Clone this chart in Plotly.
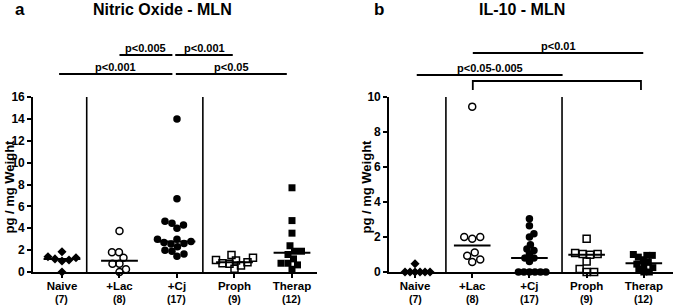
import numpy as np
import plotly.graph_objects as go

# ---------------- data ----------------
categories = ["Naive", "+Lac", "+Cj", "Proph", "Therap"]
counts = [7, 8, 17, 9, 12]

# Panel a: Nitric Oxide - MLN (pg / mg weight)
no_naive = [0.0, 1.0, 1.1, 1.2, 1.3, 1.4, 1.85]
no_lac = [0.0, 0.25, 0.75, 0.75, 1.3, 1.8, 1.8, 3.75]
no_cj = [1.45, 1.65, 1.9, 2.0, 2.3, 2.55, 2.6, 2.7, 2.8, 3.0, 3.0, 4.0, 4.3, 4.45, 4.65, 6.7, 14.0]
no_proph = [0.3, 0.6, 0.75, 0.8, 0.9, 1.05, 1.1, 1.3, 1.55]
no_therap = [0.25, 0.65, 0.8, 0.8, 1.2, 1.6, 1.9, 1.9, 2.4, 3.55, 4.7, 7.7]

# Panel b: IL-10 - MLN (pg / mg weight)
il_naive = [0.0, 0.0, 0.0, 0.0, 0.0, 0.0, 0.47]
il_lac = [0.57, 0.72, 0.93, 1.12, 1.9, 2.0, 2.0, 9.45]
il_cj = [0.0, 0.0, 0.0, 0.0, 0.0, 0.0, 0.6, 0.8, 0.8, 1.03, 1.23, 1.31, 1.56, 2.0, 2.19, 2.65, 3.05]
il_proph = [0.0, 0.0, 0.17, 0.6, 0.98, 1.03, 1.03, 1.08, 1.9]
il_therap = [0.0, 0.0, 0.15, 0.25, 0.35, 0.45, 0.55, 0.7, 0.85, 0.95, 0.95, 1.0]

no_ticks = [0, 2, 4, 6, 8, 10, 12, 14, 16]
il_ticks = [0, 2, 4, 6, 8, 10]

no_brackets = [(1.0, 1.92, 55, "p<0.005"), (1.97, 2.97, 55, "p<0.001"),
               (-0.05, 1.92, 74, "p<0.001"), (1.98, 3.91, 74, "p<0.05")]
il_brackets = [(1.01, 3.99, 53, "p<0.01"), (0.03, 2.58, 75, "p<0.05-0.005")]

# ---------------- layout constants ----------------
W, H = 675, 306
FONT = "Liberation Sans, Arial, sans-serif"
TOP_PX, BOT_PX = 97, 272
ydom = [(H - BOT_PX) / H, (H - TOP_PX) / H]

panels = [
    dict(groups=[no_naive, no_lac, no_cj, no_proph, no_therap], ticks=no_ticks,
         x0px=33, x1px=317, xr=[-0.504, 4.435], seps=[0.43, 2.45], brackets=no_brackets,
         legged=[], title="Nitric Oxide - MLN", title_x=162, letter="a", letter_x=20,
         ytitle_x=9, spacing=[7, 7, 7, 7, 7]),
    dict(groups=[il_naive, il_lac, il_cj, il_proph, il_therap], ticks=il_ticks,
         x0px=389, x1px=673, xr=[-0.455, 4.51], seps=[0.54, 2.57], brackets=il_brackets,
         legged=[(1.01, 3.95, 81, 90)], title="IL-10 - MLN", title_x=522, letter="b", letter_x=379,
         ytitle_x=366, spacing=[4.8, 8, 5.5, 7.5, 5.5]),
]

styles = [
    dict(symbol="diamond", size=7, color="black", lw=0),
    dict(symbol="circle-open", size=7, color="black", lw=1.5),
    dict(symbol="circle", size=7.5, color="black", lw=0),
    dict(symbol="square-open", size=7, color="black", lw=1.5),
    dict(symbol="square", size=7, color="black", lw=0),
]


def swarm(vals, ypx, d, step=0.5):
    placed = []
    off = [0.0] * len(vals)
    for i in np.argsort(vals, kind="stable"):
        y = vals[i] * ypx
        k = 0
        while True:
            cands = [0.0] if k == 0 else [k * step, -k * step]
            found = None
            for c in cands:
                if all((c - px) ** 2 + (y - py_) ** 2 >= d * d - 1e-9 for px, py_ in placed):
                    found = c
                    break
            if found is not None:
                break
            k += 1
        placed.append((found, y))
        off[i] = found
    return off


fig = go.Figure()
shapes = []
annotations = []


def py(px_from_top):
    return (H - px_from_top) / H


for p_i, P in enumerate(panels):
    xa = "x" if p_i == 0 else "x2"
    ya = "y" if p_i == 0 else "y2"
    xpx = (P["x1px"] - P["x0px"]) / (P["xr"][1] - P["xr"][0])
    ymax = P["ticks"][-1]
    ypx = (BOT_PX - TOP_PX) / ymax
    for g, vals in enumerate(P["groups"]):
        st = styles[g]
        offs = swarm(vals, ypx, P["spacing"][g])
        xs = [g + o / xpx for o in offs]
        fig.add_trace(go.Scatter(
            x=xs, y=vals, mode="markers", xaxis=xa, yaxis=ya, cliponaxis=False,
            marker=dict(symbol=st["symbol"], size=st["size"], color=st["color"],
                        line=dict(width=st["lw"], color="black")),
            hoverinfo="y"))
        med = float(np.median(vals))
        if med > 0:
            fig.add_trace(go.Scatter(
                x=[g - 0.32, g + 0.32], y=[med, med], mode="lines", xaxis=xa, yaxis=ya,
                cliponaxis=False, line=dict(color="black", width=2), hoverinfo="skip"))
        # group size under the category label
        annotations.append(dict(text=f"<b>({counts[g]})</b>", xref=xa, yref="paper",
                                x=g, y=py(298.5), showarrow=False, xanchor="center",
                                yanchor="middle", borderpad=0,
                                font=dict(family=FONT, size=10.5, color="black")))
    # separators
    for s in P["seps"]:
        shapes.append(dict(type="line", xref=xa, yref="paper", x0=s, x1=s,
                           y0=py(BOT_PX), y1=py(TOP_PX), line=dict(color="black", width=1.6)))
    # brackets
    for (bx0, bx1, ly, lab) in P["brackets"]:
        shapes.append(dict(type="line", xref=xa, yref="paper", x0=bx0, x1=bx1,
                           y0=py(ly), y1=py(ly), line=dict(color="black", width=1.8)))
        annotations.append(dict(text="<b>" + lab + "</b>", xref=xa, yref="paper",
                                x=(bx0 + bx1) / 2, y=py(ly - 7.5), showarrow=False,
                                xanchor="center", yanchor="middle",
                                font=dict(family=FONT, size=11, color="black")))
    for (bx0, bx1, ly, ly2) in P["legged"]:
        shapes.append(dict(type="path", xref=xa, yref="paper",
                           path=f"M {bx0},{py(ly2)} L {bx0},{py(ly)} L {bx1},{py(ly)} L {bx1},{py(ly2)}",
                           line=dict(color="black", width=1.8)))
    # titles
    annotations.append(dict(text="<b>" + P["title"] + "</b>", xref="paper", yref="paper",
                            x=P["title_x"] / W, y=py(9), showarrow=False, xanchor="center",
                            yanchor="middle", font=dict(family=FONT, size=16, color="black")))
    annotations.append(dict(text="<b>" + P["letter"] + "</b>", xref="paper", yref="paper",
                            x=P["letter_x"] / W, y=py(10), showarrow=False, xanchor="center",
                            yanchor="middle", font=dict(family=FONT, size=17, color="black")))
    annotations.append(dict(text="<b>pg / mg Weight</b>", xref="paper", yref="paper",
                            x=P["ytitle_x"] / W, y=py((TOP_PX + BOT_PX) / 2 + 2), showarrow=False,
                            textangle=-90, xanchor="center", yanchor="middle",
                            font=dict(family=FONT, size=13, color="black")))

    axis_common = dict(showline=True, linecolor="black", linewidth=1.6, ticks="outside",
                       ticklen=4, tickwidth=1.5, tickcolor="black", showgrid=False,
                       zeroline=False, fixedrange=True, automargin=False)
    xkey = "xaxis" if p_i == 0 else "xaxis2"
    ykey = "yaxis" if p_i == 0 else "yaxis2"
    fig.update_layout(**{
        xkey: dict(domain=[P["x0px"] / W, P["x1px"] / W], range=P["xr"], anchor=ya,
                   tickmode="array", tickvals=list(range(len(categories))),
                   ticktext=[f"<b>{c}</b>" for c in categories], ticklabelstandoff=-2,
                   tickfont=dict(family=FONT, size=11.5, color="black"), **axis_common),
        ykey: dict(domain=ydom, range=[0, ymax], anchor=xa, tickmode="array",
                   tickvals=P["ticks"], ticktext=[f"<b>{t}</b>" for t in P["ticks"]],
                   tickfont=dict(family=FONT, size=12, color="black"), **axis_common),
    })

fig.update_layout(template="none", width=W, height=H, autosize=False,
                  margin=dict(l=0, r=0, t=0, b=0, pad=0, autoexpand=False),
                  plot_bgcolor="white", paper_bgcolor="white", showlegend=False,
                  shapes=shapes, annotations=annotations)

fig.write_html("out.html", config={"displayModeBar": False},
               post_script="document.body.style.margin='0';document.body.style.overflow='hidden';")
